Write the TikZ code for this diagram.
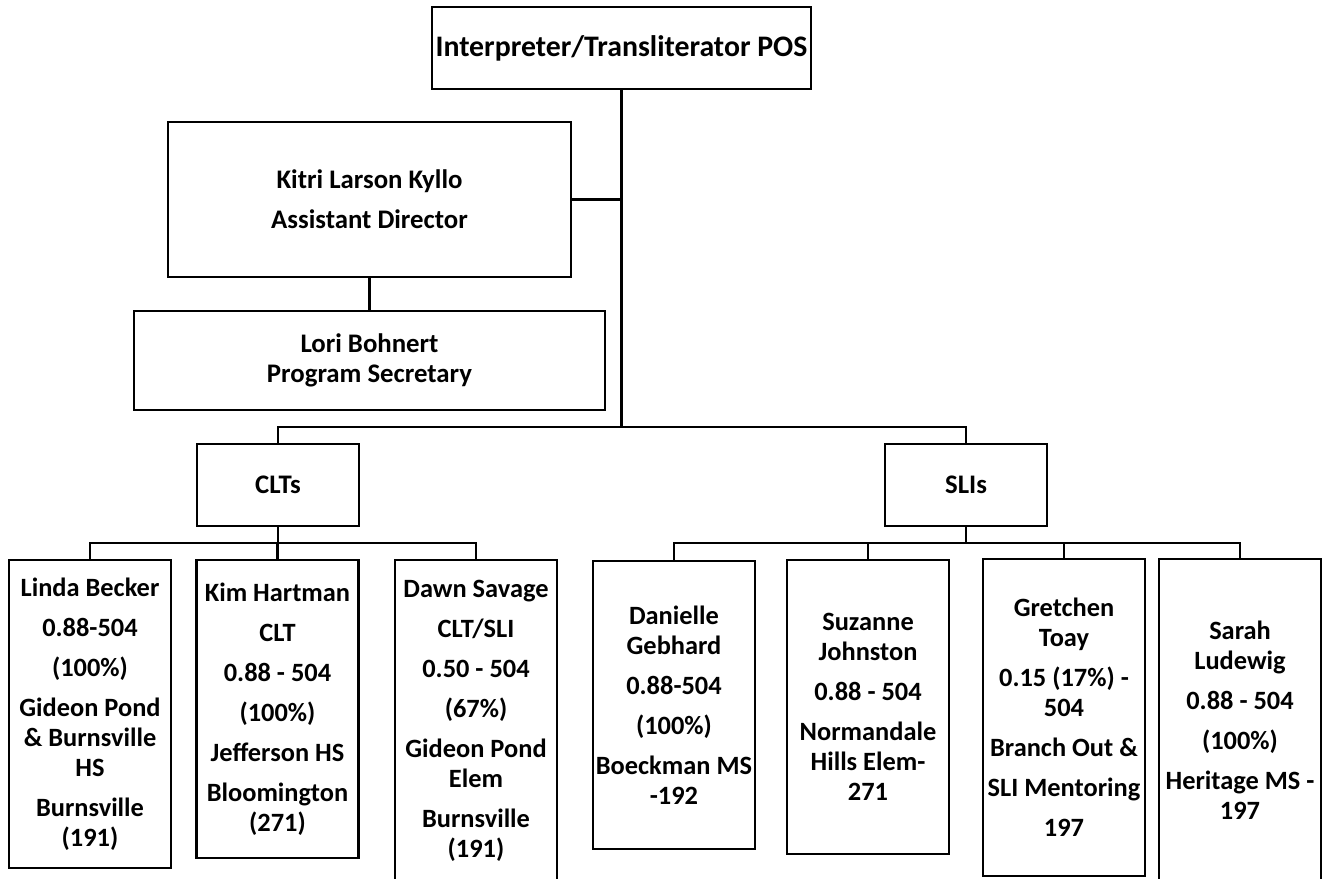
\documentclass[tikz,border=0pt]{standalone}
\usepackage{fontspec}
\setmainfont{Carlito}
\begin{document}
\begin{tikzpicture}[x=0.5pt,y=-0.5pt,
  box/.style={draw, line width=1.1pt, align=center, inner sep=0pt,
    font=\bfseries\fontsize{13.4}{15}\selectfont},
  kid/.style={box, minimum width=81pt, font=\bfseries\fontsize{13.2}{15}\selectfont},
  conn/.style={line width=1.1pt}]
\useasboundingbox (0,0) rectangle (1322,878);
\clip (0,0) rectangle (1322,878);
% upper part
\node[box, minimum width=189.5pt, minimum height=41pt,
  font=\bfseries\fontsize{14.9}{17}\selectfont] (top) at (621.5,48) {Interpreter/Transliterator POS};
\node[box, minimum width=201.5pt, minimum height=77.5pt] (kitri) at (369.5,199.5)
  {Kitri Larson Kyllo\\[5pt]Assistant Director};
\node[box, minimum width=235.5pt, minimum height=49.5pt] (lori) at (369.5,360.5)
  {Lori Bohnert\\Program Secretary};
\node[box, minimum width=81pt, minimum height=41pt] (clts) at (278,485) {CLTs};
\node[box, minimum width=81pt, minimum height=41pt] (slis) at (966,485) {SLIs};
% CLT children
\node[kid, minimum height=154pt] (linda) at (90,714)
  {Linda Becker\\[5pt]0.88-504\\[5pt](100\%)\\[5pt]Gideon Pond\\\& Burnsville\\HS\\[5pt]Burnsville\\(191)};
\node[kid, minimum height=149pt] (kim) at (277.5,709)
  {Kim Hartman\\[5pt]CLT\\[5pt]0.88 - 504\\[5pt](100\%)\\[5pt]Jefferson HS\\[5pt]Bloomington\\(271)};
\node[kid, minimum height=161pt] (dawn) at (476,721)
  {Dawn Savage\\[5pt]CLT/SLI\\[5pt]0.50 - 504\\[5pt](67\%)\\[5pt]Gideon Pond\\Elem\\[5pt]Burnsville\\(191)};
% SLI children
\node[kid, minimum height=144pt] (danielle) at (674,705)
  {Danielle\\Gebhard\\[5pt]0.88-504\\[5pt](100\%)\\[5pt]Boeckman MS\\-192};
\node[kid, minimum height=147pt] (suzanne) at (868,707)
  {Suzanne\\Johnston\\[5pt]0.88 - 504\\[5pt]Normandale\\Hills Elem-\\271};
\node[kid, minimum height=158.5pt] (gretchen) at (1064,717.5)
  {Gretchen\\Toay\\[5pt]0.15 (17\%) -\\504\\[5pt]Branch Out \&\\[5pt]SLI Mentoring\\[5pt]197};
\node[kid, minimum height=161.5pt] (sarah) at (1240,720.5)
  {Sarah\\Ludewig\\[5pt]0.88 - 504\\[5pt](100\%)\\[5pt]Heritage MS -\\197};
% connectors
\coordinate (busL) at (278,427);
\coordinate (cbus) at (0,543);
\draw[conn] (top.south) -- (top.south |- busL);
\draw[conn] (kitri.east) -- (kitri.east -| top.south);
\draw[conn] (kitri.south) -- (lori.north);
\draw[conn] (clts.north) -- (clts.north |- busL) -- (slis.north |- busL) -- (slis.north);
\draw[conn] (clts.south) -- (clts.south |- cbus);
\draw[conn] (linda.north) -- (linda.north |- cbus) -- (dawn.north |- cbus) -- (dawn.north);
\draw[conn] (kim.north) -- (kim.north |- cbus);
\draw[conn] (slis.south) -- (slis.south |- cbus);
\draw[conn] (danielle.north) -- (danielle.north |- cbus) -- (sarah.north |- cbus) -- (sarah.north);
\draw[conn] (suzanne.north) -- (suzanne.north |- cbus);
\draw[conn] (gretchen.north) -- (gretchen.north |- cbus);
\end{tikzpicture}
\end{document}
